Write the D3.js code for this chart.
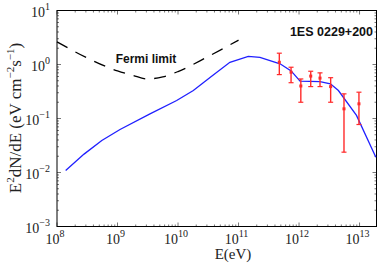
<!DOCTYPE html>
<html>
<head>
<meta charset="utf-8">
<script src="https://cdn.jsdelivr.net/npm/d3@7"></script>
<style>
  body { margin: 0; background: #fff; }
  svg { display: block; }
</style>
</head>
<body>
<svg width="382" height="263"></svg>
<script>
// model SED (blue line)
var modelE = [1.39e8, 2.8e8, 5.5e8, 1.1e9, 3.44e9, 9.5e9, 1.79e10, 3.55e10, 7.2e10, 1.45e11,
              2.26e11, 4.85e11, 7.4e11, 1.04e12, 2.22e12, 3.3e12, 4.47e12, 8.9e12, 1.86e13];
var modelF = [0.0109, 0.0219, 0.0392, 0.0625, 0.122, 0.215, 0.33, 0.60, 1.10, 1.41,
              1.36, 1.03, 0.76, 0.49, 0.48, 0.44, 0.33, 0.114, 0.0192];

// Fermi limit (dashed)
var fermiE = [1e8, 3.16e8, 1e9, 1.78e9, 3.16e9, 5.6e9, 1e10, 3.16e10, 1e11];
var fermiF = [2.63, 1.32, 0.76, 0.63, 0.54, 0.59, 0.74, 1.41, 2.82];

// HESS points with error bars
var obsE  = [4.72e11, 7.38e11, 1.07e12, 1.56e12, 2.22e12, 3.33e12, 5.53e12, 9.77e12];
var obsF  = [1.10, 0.72, 0.40, 0.61, 0.56, 0.39, 0.151, 0.187];
var obsHi = [1.62, 0.89, 0.54, 0.75, 0.70, 0.57, 0.286, 0.307];
var obsLo = [0.65, 0.46, 0.20, 0.39, 0.39, 0.20, 0.0238, 0.0774];

var xExp = [8, 9, 10, 11, 12, 13];
var yExp = [-3, -2, -1, 0, 1];

var svg = d3.select('svg');
var pL = 57, pR = 376.5, pT = 10.5, pB = 226.5;

var x = d3.scaleLog().domain([1e8, Math.pow(10, 13.28)]).range([pL, pR]);
var y = d3.scaleLog().domain([1e-3, 10]).range([pB, pT]);

var g = svg.append('g');

// minor/major ticks (inside, mirrored)
var xMinor = [], yMinor = [];
for (var e = 8; e <= 13; e++) for (var k = 2; k <= 9; k++) {
    var v = k * Math.pow(10, e);
    if (v < x.domain()[1]) xMinor.push(v);
}
for (var e2 = -3; e2 < 1; e2++) for (var k2 = 2; k2 <= 9; k2++) yMinor.push(k2 * Math.pow(10, e2));

var tickCol = '#777';
xMinor.forEach(function (v) {
    g.append('line').attr('x1', x(v)).attr('x2', x(v)).attr('y1', pB).attr('y2', pB - 2).attr('stroke', tickCol);
    g.append('line').attr('x1', x(v)).attr('x2', x(v)).attr('y1', pT).attr('y2', pT + 2).attr('stroke', tickCol);
});
xExp.forEach(function (e) {
    var v = Math.pow(10, e);
    g.append('line').attr('x1', x(v)).attr('x2', x(v)).attr('y1', pB).attr('y2', pB - 4).attr('stroke', tickCol);
    g.append('line').attr('x1', x(v)).attr('x2', x(v)).attr('y1', pT).attr('y2', pT + 4).attr('stroke', tickCol);
});
yMinor.forEach(function (v) {
    g.append('line').attr('y1', y(v)).attr('y2', y(v)).attr('x1', pL).attr('x2', pL + 2).attr('stroke', tickCol);
    g.append('line').attr('y1', y(v)).attr('y2', y(v)).attr('x1', pR).attr('x2', pR - 2).attr('stroke', tickCol);
});
yExp.forEach(function (e) {
    var v = Math.pow(10, e);
    g.append('line').attr('y1', y(v)).attr('y2', y(v)).attr('x1', pL).attr('x2', pL + 4).attr('stroke', tickCol);
    g.append('line').attr('y1', y(v)).attr('y2', y(v)).attr('x1', pR).attr('x2', pR - 4).attr('stroke', tickCol);
});

// frame
g.append('rect').attr('x', pL).attr('y', pT).attr('width', pR - pL).attr('height', pB - pT)
    .attr('fill', 'none').attr('stroke', '#000').attr('stroke-width', 1);

// tick labels
var serif = '"Liberation Serif", "Times New Roman", serif';
xExp.forEach(function (e) {
    var t = g.append('text').attr('x', x(Math.pow(10, e)) - 2).attr('y', pB + 17)
        .attr('text-anchor', 'middle').attr('font-family', serif).attr('font-size', 14).attr('fill', '#222');
    t.append('tspan').text('10');
    t.append('tspan').attr('dy', -7).attr('font-size', 10).text(e);
});
yExp.forEach(function (e) {
    var t = g.append('text').attr('x', pL - 7).attr('y', y(Math.pow(10, e)) + 6)
        .attr('text-anchor', 'end').attr('font-family', serif).attr('font-size', 14).attr('fill', '#222');
    t.append('tspan').text('10');
    t.append('tspan').attr('dy', -7).attr('font-size', 10).text(e < 0 ? '\u2212' + (-e) : e);
});

// axis titles
svg.append('text').attr('x', 233).attr('y', 258.5).attr('text-anchor', 'middle')
    .attr('font-family', serif).attr('font-size', 15).attr('fill', '#222').text('E(eV)');

var yl = svg.append('text').attr('transform', 'translate(21,118) rotate(-90)')
    .attr('text-anchor', 'middle').attr('font-family', serif).attr('font-size', 17).attr('fill', '#222');
yl.append('tspan').text('E');
yl.append('tspan').attr('dy', -7).attr('font-size', 11).text('2');
yl.append('tspan').attr('dy', 7).text('dN/dE (eV cm');
yl.append('tspan').attr('dy', -7).attr('font-size', 11).text('\u22122');
yl.append('tspan').attr('dy', 7).text('s');
yl.append('tspan').attr('dy', -7).attr('font-size', 11).text('\u22121');
yl.append('tspan').attr('dy', 7).text(')');

// Fermi limit
var fermi = fermiE.map(function (e, i) { return [e, fermiF[i]]; });
g.append('path').datum(fermi)
    .attr('d', d3.line().x(function (d) { return x(d[0]); }).y(function (d) { return y(d[1]); }).curve(d3.curveMonotoneX))
    .attr('fill', 'none').attr('stroke', '#000').attr('stroke-width', 1.3).attr('stroke-dasharray', '12,9');

// model
var model = modelE.map(function (e, i) { return [e, modelF[i]]; });
g.append('path').datum(model)
    .attr('d', d3.line().x(function (d) { return x(d[0]); }).y(function (d) { return y(d[1]); }))
    .attr('fill', 'none').attr('stroke', '#2020ff').attr('stroke-width', 1.3);

// data points
var red = '#ff2a2a';
var pts = g.selectAll('.pt').data(obsE.map(function (e, i) {
    return {e: e, f: obsF[i], hi: obsHi[i], lo: obsLo[i]};
})).enter().append('g');
pts.append('line').attr('x1', function (d) { return x(d.e); }).attr('x2', function (d) { return x(d.e); })
    .attr('y1', function (d) { return y(d.hi); }).attr('y2', function (d) { return y(d.lo); })
    .attr('stroke', red).attr('stroke-width', 1.4);
pts.append('line').attr('x1', function (d) { return x(d.e) - 2.5; }).attr('x2', function (d) { return x(d.e) + 2.5; })
    .attr('y1', function (d) { return y(d.hi); }).attr('y2', function (d) { return y(d.hi); })
    .attr('stroke', red).attr('stroke-width', 1.2);
pts.append('line').attr('x1', function (d) { return x(d.e) - 2.5; }).attr('x2', function (d) { return x(d.e) + 2.5; })
    .attr('y1', function (d) { return y(d.lo); }).attr('y2', function (d) { return y(d.lo); })
    .attr('stroke', red).attr('stroke-width', 1.2);
pts.append('rect').attr('x', function (d) { return x(d.e) - 1.5; }).attr('y', function (d) { return y(d.f) - 1.5; })
    .attr('width', 3).attr('height', 3).attr('fill', red);

// annotations
var sans = '"Liberation Sans", Arial, sans-serif';
svg.append('text').attr('x', 146).attr('y', 63).attr('text-anchor', 'middle')
    .attr('font-family', sans).attr('font-weight', 'bold').attr('font-size', 12).attr('fill', '#111').text('Fermi limit');
svg.append('text').attr('x', 373).attr('y', 36).attr('text-anchor', 'end')
    .attr('font-family', sans).attr('font-weight', 'bold').attr('font-size', 12.5).attr('fill', '#111').text('1ES 0229+200');
</script>
</body>
</html>
